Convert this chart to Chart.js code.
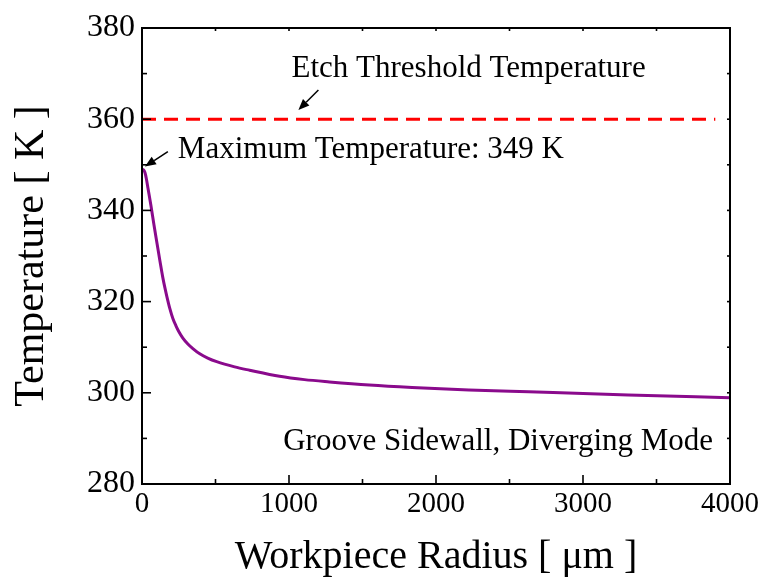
<!DOCTYPE html>
<html>
<head>
<meta charset="utf-8">
<script src="https://cdn.jsdelivr.net/npm/chart.js@4"></script>
<style>
  html, body { margin: 0; padding: 0; background: #ffffff; }
  #wrap { width: 762px; height: 584px; position: relative; }
</style>
</head>
<body>
<div id="wrap"><canvas id="chart" width="762" height="584"></canvas></div>
<script>
// Sidewall temperature profile along the workpiece radius
const radius = [0, 10, 20, 30, 41, 61, 81, 102, 122, 142, 156, 170, 190, 210, 231, 251, 278, 312, 346, 393, 447, 508, 630, 732, 936, 1105, 1275, 1546, 1837, 2224, 2631, 3308, 4000];
const temperature = [349, 348.9, 348.3, 346.9, 344.8, 341.0, 336.9, 332.8, 328.9, 325.2, 323.0, 321.0, 318.4, 316.3, 314.7, 313.4, 312.0, 310.7, 309.7, 308.54, 307.61, 306.82, 305.68, 304.95, 303.62, 302.89, 302.39, 301.71, 301.18, 300.64, 300.22, 299.54, 298.93];

// Etch threshold reference line
const thresholdRadius = [0, 3900];
const thresholdTemp = [360, 360];

// Axis ticks
const xTicks = [0, 1000, 2000, 3000, 4000];
const yTicks = [280, 300, 320, 340, 360, 380];
const xMinorStep = 500;
const yMinorStep = 10;

// Text notes placed in data coordinates
const notes = [
  { text: 'Etch Threshold Temperature', x: 1017, y: 369.25, align: 'left' },
  { text: 'Maximum Temperature: 349 K', x: 244, y: 351.5, align: 'left' },
  { text: 'Groove Sidewall, Diverging Mode', x: 3885, y: 287.5, align: 'right' }
];
const arrows = [
  { from: [1200, 366.4], to: [1064, 362.0] },
  { from: [176, 352.9], to: [20, 349.6] }
];

const FONT = "'Liberation Serif', 'Times New Roman', serif";

function seg(ctx, x1, y1, x2, y2) {
  ctx.beginPath();
  ctx.moveTo(x1, y1);
  ctx.lineTo(x2, y2);
  ctx.stroke();
}

// Closed frame with inward major/minor ticks on all four sides
const framePlugin = {
  id: 'frame',
  afterDatasetsDraw(chart) {
    const { ctx, chartArea: a, scales: { x, y } } = chart;
    ctx.save();
    ctx.strokeStyle = '#000';
    ctx.lineWidth = 2;
    ctx.strokeRect(a.left, a.top, a.right - a.left, a.bottom - a.top);
    ctx.lineWidth = 1.6;
    for (let v = x.min; v <= x.max; v += xMinorStep) {
      const px = x.getPixelForValue(v);
      const major = xTicks.includes(v);
      seg(ctx, px, a.bottom, px, a.bottom - (major ? 9 : 5));
      seg(ctx, px, a.top, px, a.top + 3);
    }
    for (let v = y.min; v <= y.max; v += yMinorStep) {
      const py = y.getPixelForValue(v);
      const major = yTicks.includes(v);
      seg(ctx, a.left, py, a.left + (major ? 9 : 5), py);
      seg(ctx, a.right, py, a.right - 3, py);
    }
    ctx.restore();
  }
};

// Annotation text and arrows
const notePlugin = {
  id: 'notes',
  afterDraw(chart) {
    const { ctx, scales: { x, y } } = chart;
    ctx.save();
    ctx.fillStyle = '#000';
    ctx.font = `31px ${FONT}`;
    ctx.textBaseline = 'alphabetic';
    notes.forEach(n => {
      ctx.textAlign = n.align;
      ctx.fillText(n.text, x.getPixelForValue(n.x), y.getPixelForValue(n.y));
    });
    ctx.strokeStyle = '#000';
    ctx.lineWidth = 1.5;
    arrows.forEach(ar => {
      const x1 = x.getPixelForValue(ar.from[0]), y1 = y.getPixelForValue(ar.from[1]);
      const x2 = x.getPixelForValue(ar.to[0]), y2 = y.getPixelForValue(ar.to[1]);
      const ang = Math.atan2(y2 - y1, x2 - x1);
      const hl = 11, hw = 4.5;
      const bx = x2 - hl * Math.cos(ang), by = y2 - hl * Math.sin(ang);
      seg(ctx, x1, y1, bx, by);
      ctx.beginPath();
      ctx.moveTo(x2, y2);
      ctx.lineTo(bx + hw * Math.sin(ang), by - hw * Math.cos(ang));
      ctx.lineTo(bx - hw * Math.sin(ang), by + hw * Math.cos(ang));
      ctx.closePath();
      ctx.fill();
    });
    ctx.restore();
  }
};

new Chart(document.getElementById('chart').getContext('2d'), {
  type: 'line',
  data: {
    datasets: [
      {
        label: 'Temperature',
        data: radius.map((r, i) => ({ x: r, y: temperature[i] })),
        borderColor: '#8a0a8c',
        borderWidth: 3,
        pointRadius: 0,
        cubicInterpolationMode: 'monotone',
        fill: false
      },
      {
        label: 'Etch Threshold Temperature',
        data: thresholdRadius.map((r, i) => ({ x: r, y: thresholdTemp[i] })),
        borderColor: '#ff0000',
        borderWidth: 3,
        borderDash: [14, 8],
        pointRadius: 0,
        fill: false
      }
    ]
  },
  options: {
    responsive: false,
    animation: false,
    devicePixelRatio: 1,
    layout: { padding: { top: 28, right: 30, left: 0, bottom: 0 } },
    plugins: { legend: { display: false }, tooltip: { enabled: false } },
    scales: {
      x: {
        type: 'linear',
        min: 0,
        max: 4000,
        afterBuildTicks: s => { s.ticks = xTicks.map(v => ({ value: v })); },
        afterFit: s => { s.height = 100; },
        ticks: {
          font: { family: FONT, size: 29 },
          color: '#000',
          padding: 3,
          maxRotation: 0,
          callback: v => String(v)
        },
        grid: { display: false, drawTicks: false },
        border: { display: false },
        title: {
          display: true,
          text: 'Workpiece Radius [ μm ]',
          font: { family: FONT, size: 40 },
          color: '#000',
          padding: { top: 0, bottom: 2.5 }
        }
      },
      y: {
        type: 'linear',
        min: 280,
        max: 380,
        afterBuildTicks: s => { s.ticks = yTicks.map(v => ({ value: v })); },
        afterFit: s => { s.width = 142; },
        ticks: {
          font: { family: FONT, size: 32 },
          color: '#000',
          padding: 7,
          callback: v => String(v)
        },
        grid: { display: false, drawTicks: false },
        border: { display: false },
        title: {
          display: true,
          text: 'Temperature [ K ]',
          font: { family: FONT, size: 42 },
          color: '#000',
          padding: { top: 6.6, bottom: 0 }
        }
      }
    }
  },
  plugins: [framePlugin, notePlugin]
});
</script>
</body>
</html>
